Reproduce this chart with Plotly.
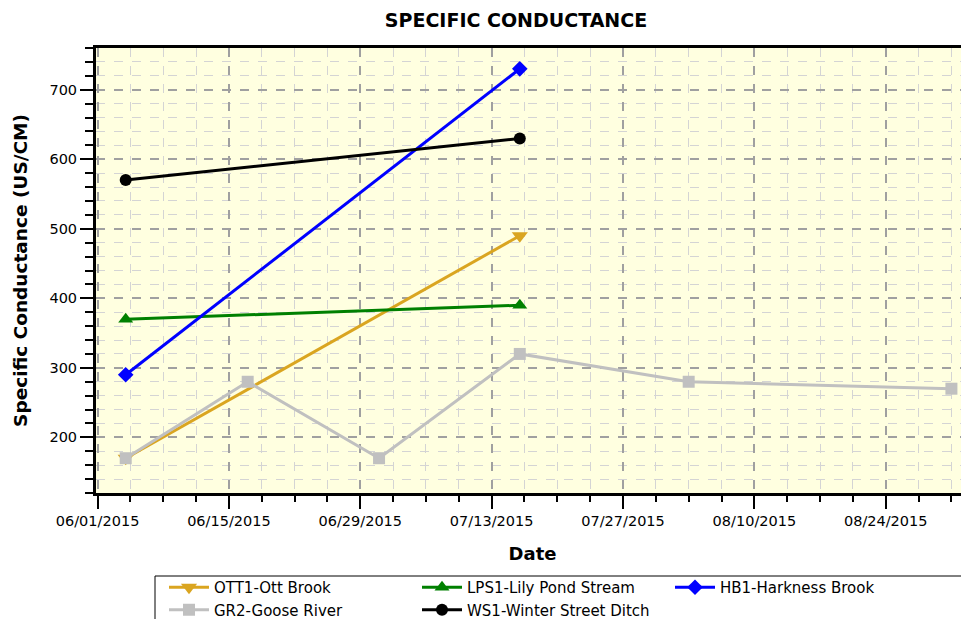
import plotly.graph_objects as go

# ---- data ----
series_names = ["OTT1-Ott Brook", "LPS1-Lily Pond Stream", "HB1-Harkness Brook",
                "GR2-Goose River", "WS1-Winter Street Ditch"]
ott1_dates = ["2015-06-04", "2015-07-16"]
ott1_vals = [170, 490]
lps1_dates = ["2015-06-04", "2015-07-16"]
lps1_vals = [370, 390]
hb1_dates = ["2015-06-04", "2015-07-16"]
hb1_vals = [290, 730]
gr2_dates = ["2015-06-04", "2015-06-17", "2015-07-01", "2015-07-16", "2015-08-03", "2015-08-31"]
gr2_vals = [170, 280, 170, 320, 280, 270]
ws1_dates = ["2015-06-04", "2015-07-16"]
ws1_vals = [570, 630]

colors = ["#DAA520", "#008000", "#0000FF", "#C0C0C0", "#000000"]
symbols = ["triangle-down", "triangle-up", "diamond", "square", "circle"]
msizes = [14, 13, 12, 12, 12]
xs = [ott1_dates, lps1_dates, hb1_dates, gr2_dates, ws1_dates]
ys = [ott1_vals, lps1_vals, hb1_vals, gr2_vals, ws1_vals]

FONT = "DejaVu Sans"
W, H = 961, 611          # page body has an 8px margin
fig = go.Figure()
for name, x, y, c, s, ms in zip(series_names, xs, ys, colors, symbols, msizes):
    fig.add_trace(go.Scatter(x=x, y=y, name=name, mode="lines+markers",
                             line=dict(color=c, width=3),
                             marker=dict(symbol=s, size=ms, color=c)))

DAY = 86400000
fig.update_layout(
    width=W, height=H,
    margin=dict(l=88, r=0, t=40, b=126, autoexpand=False),
    paper_bgcolor="white", plot_bgcolor="#FFFFE0",
    font=dict(family=FONT, size=14, color="black"),
    title=dict(text="<b>SPECIFIC CONDUCTANCE</b>", x=508 / W, xref="container",
               xanchor="center", y=1 - 12 / H, yanchor="middle", font=dict(size=19)),
    legend=dict(orientation="h", x=68 / 873, xanchor="left", y=-78 / 445, yanchor="top",
                entrywidth=198, entrywidthmode="pixels",
                borderwidth=0, bgcolor="rgba(0,0,0,0)", font=dict(size=15),
                tracegroupgap=0, itemwidth=40),
    showlegend=True,
    shapes=[dict(type="rect", xref="paper", yref="paper",
                 x0=59 / 873, x1=1.2, y0=-83 / 445, y1=-0.6,
                 line=dict(color="black", width=1), fillcolor="rgba(0,0,0,0)")],
)
fig.update_xaxes(
    type="date", range=["2015-05-31 20:00", "2015-09-01 21:00"],
    tick0="2015-06-01", dtick=14 * DAY, tickformat="%m/%d/%Y",
    ticks="outside", ticklen=13, tickwidth=2, tickcolor="black",
    showline=True, linecolor="black", linewidth=3, mirror=True,
    showgrid=True, gridcolor="#A0A0A0", griddash="dash", gridwidth=1.5,
    minor=dict(dtick=3.5 * DAY, tick0="2015-06-01", ticks="outside", ticklen=6,
               tickwidth=2, tickcolor="black", showgrid=True,
               gridcolor="#D4D4D4", griddash="dash", gridwidth=1),
    title=dict(text="<b>Date</b>", font=dict(size=18), standoff=19),
    zeroline=False, tickfont=dict(size=14.5), automargin=False,
)
fig.update_yaxes(
    range=[120, 760], dtick=100, tick0=0,
    ticks="outside", ticklen=13, tickwidth=2, tickcolor="black",
    showline=True, linecolor="black", linewidth=3,
    showgrid=True, gridcolor="#A0A0A0", griddash="dash", gridwidth=1.5,
    minor=dict(dtick=20, ticks="outside", ticklen=8, tickwidth=2, tickcolor="black",
               showgrid=True, gridcolor="#D4D4D4", griddash="dash", gridwidth=1),
    title=dict(text="<b>Specific Conductance (US/CM)</b>", font=dict(size=18.5), standoff=17),
    zeroline=False, tickfont=dict(size=14.5), automargin=False,
)
fig.write_html("out.html")
